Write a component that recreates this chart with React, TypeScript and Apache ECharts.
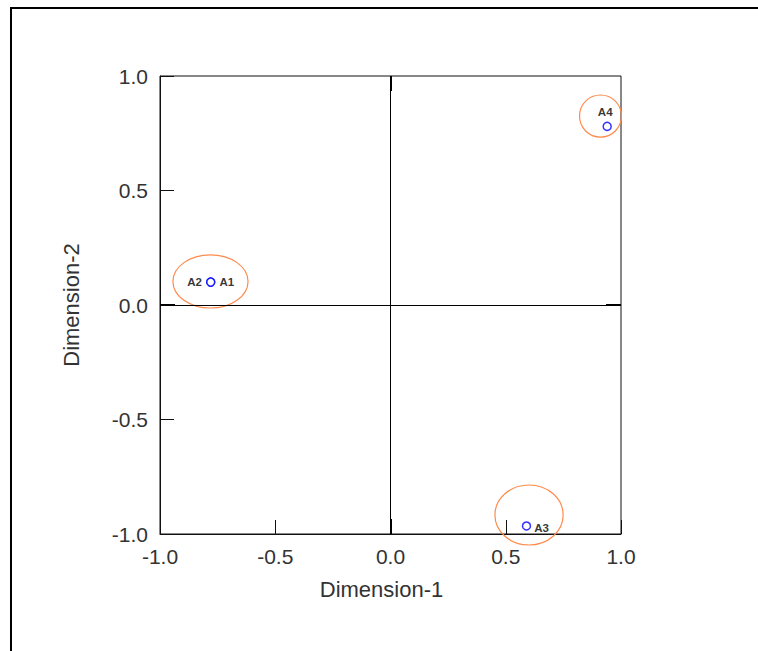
import React, { useEffect, useRef } from "react";
import * as echarts from "echarts";

// Object coordinates on the two dimensions
const pointNames = ["A1", "A2", "A3", "A4"];
const dim1Values = [-0.78, -0.78, 0.59, 0.94];
const dim2Values = [0.1, 0.1, -0.965, 0.78];

// Cluster outlines (centre and radii, in dimension units)
const clusterCx = [-0.781, 0.601, 0.911];
const clusterCy = [0.103, -0.917, 0.825];
const clusterRx = [0.163, 0.148, 0.091];
const clusterRy = [0.116, 0.131, 0.092];

// Axis ticks
const axisMin = -1;
const axisMax = 1;
const tickStep = 0.5;

const xAxisTitle = "Dimension-1";
const yAxisTitle = "Dimension-2";

export default function App() {
  const ref = useRef<HTMLDivElement>(null);

  useEffect(() => {
    if (!ref.current) return;
    const chart = echarts.init(ref.current, null, { renderer: "svg" });

    const labelPlacement: Record<string, any> = {
      A1: { position: "right", distance: 4 },
      A2: { position: "left", distance: 4 },
      A3: { position: "right", distance: 3, offset: [0, 2] },
      A4: { position: "top", distance: 4, offset: [-2, 0] },
    };

    const points = pointNames.map((name, i) => ({
      name,
      value: [dim1Values[i], dim2Values[i]],
      label: {
        show: true,
        formatter: name,
        color: "#000",
        fontWeight: "bold",
        fontSize: 11.5,
        fontFamily: "Liberation Sans, Arial, sans-serif",
        ...labelPlacement[name],
      },
    }));

    const clusters = clusterCx.map((cx, i) => [cx, clusterCy[i], clusterRx[i], clusterRy[i]]);

    const endTick = 0.065;
    const axisFont = "Liberation Sans, Arial, sans-serif";

    chart.setOption({
      animation: false,
      backgroundColor: "#fff",
      graphic: [
        {
          type: "rect",
          shape: { x: 11, y: 8, width: 900, height: 800 },
          style: { fill: "none", stroke: "#000", lineWidth: 2 },
          silent: true,
          z: 100,
        },
      ],
      grid: {
        left: 160,
        top: 76,
        right: 137,
        bottom: 117,
        show: true,
        borderColor: "#111",
        borderWidth: 1,
        backgroundColor: "transparent",
      },
      xAxis: {
        type: "value",
        min: axisMin,
        max: axisMax,
        interval: tickStep,
        name: xAxisTitle,
        nameLocation: "middle",
        nameGap: 44,
        nameTextStyle: { fontSize: 22, color: "#333", fontFamily: axisFont, padding: [0, 18, 0, 0] },
        axisLine: { show: true, onZero: false, lineStyle: { color: "#111", width: 1 } },
        axisTick: { show: true, inside: true, length: 14, lineStyle: { color: "#111", width: 1 } },
        axisLabel: {
          margin: 12,
          fontSize: 21,
          color: "#333",
          fontFamily: axisFont,
          formatter: (v: number) => v.toFixed(1),
        },
        splitLine: { show: false },
      },
      yAxis: {
        type: "value",
        min: axisMin,
        max: axisMax,
        interval: tickStep,
        name: yAxisTitle,
        nameLocation: "middle",
        nameGap: 78,
        nameTextStyle: { fontSize: 22, color: "#333", fontFamily: axisFont },
        axisLine: { show: true, onZero: false, lineStyle: { color: "#111", width: 1 } },
        axisTick: { show: true, inside: true, length: 14, lineStyle: { color: "#111", width: 1 } },
        axisLabel: {
          margin: 12,
          fontSize: 21,
          color: "#333",
          fontFamily: axisFont,
          formatter: (v: number) => v.toFixed(1),
        },
        splitLine: { show: false },
      },
      series: [
        {
          type: "custom",
          clip: false,
          silent: true,
          encode: { x: 0, y: 1 },
          data: clusters,
          renderItem: (params: any, api: any) => {
            const c = api.coord([api.value(0), api.value(1)]);
            const s = api.size([api.value(2), api.value(3)]);
            return {
              type: "ellipse",
              shape: { cx: c[0], cy: c[1], rx: s[0], ry: s[1] },
              style: { fill: "none", stroke: "#ff8a4c", lineWidth: 1.2 },
            };
          },
          z: 3,
        },
        {
          type: "scatter",
          symbol: "circle",
          symbolSize: 8,
          itemStyle: { color: "#fff", borderColor: "#0000ff", borderWidth: 1.5 },
          data: points,
          z: 5,
          markLine: {
            silent: true,
            symbol: "none",
            animation: false,
            label: { show: false },
            lineStyle: { color: "#000", width: 1, type: "solid" },
            data: [
              { xAxis: 0 },
              { yAxis: 0 },
              [
                { coord: [0, axisMax], lineStyle: { width: 2, color: "#000", type: "solid" } },
                { coord: [0, axisMax - endTick] },
              ],
              [
                { coord: [0, axisMin], lineStyle: { width: 2, color: "#000", type: "solid" } },
                { coord: [0, axisMin + endTick] },
              ],
              [
                { coord: [axisMin, 0], lineStyle: { width: 2, color: "#000", type: "solid" } },
                { coord: [axisMin + endTick, 0] },
              ],
              [
                { coord: [axisMax, 0], lineStyle: { width: 2, color: "#000", type: "solid" } },
                { coord: [axisMax - endTick, 0] },
              ],
            ],
          },
        },
      ],
    });

    return () => chart.dispose();
  }, []);

  return (
    <div
      ref={ref}
      style={{ position: "fixed", left: 0, top: 0, width: 758, height: 651, background: "#fff" }}
    />
  );
}
